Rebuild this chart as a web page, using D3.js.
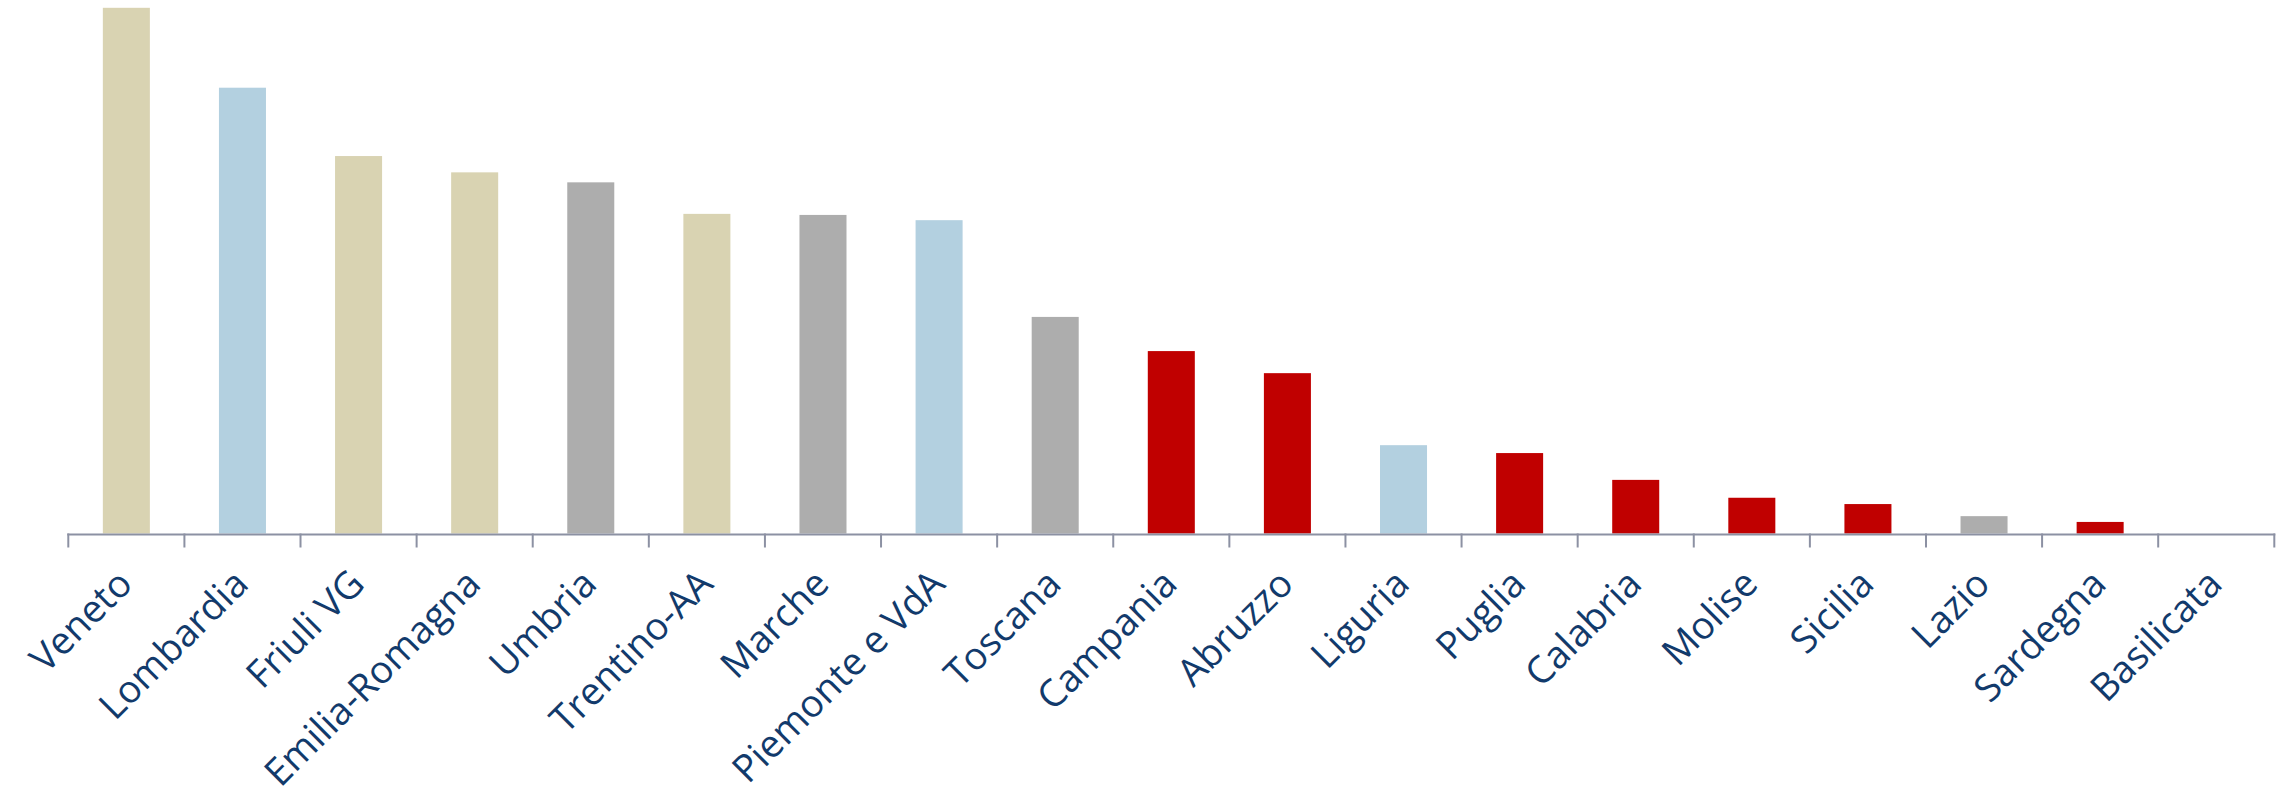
<!DOCTYPE html>
<html>
<head>
<meta charset="utf-8">
<script src="https://cdn.jsdelivr.net/npm/d3@7"></script>
<style>
  body { margin: 0; background: #fff; }
</style>
</head>
<body>
<div id="chart"></div>
<script>
// data
regioni = ['Veneto', 'Lombardia', 'Friuli VG', 'Emilia-Romagna', 'Umbria', 'Trentino-AA',
	'Marche', 'Piemonte e VdA', 'Toscana', 'Campania', 'Abruzzo', 'Liguria', 'Puglia',
	'Calabria', 'Molise', 'Sicilia', 'Lazio', 'Sardegna', 'Basilicata'];

valori = [100, 84.8, 71.8, 68.7, 66.8, 60.8, 60.6, 59.6, 41.2, 34.7, 30.5, 16.8, 15.3,
	10.2, 6.8, 5.6, 3.3, 2.2, 0];

gruppi = ['A', 'B', 'A', 'A', 'C', 'A', 'C', 'B', 'C', 'D', 'D', 'B', 'D',
	'D', 'D', 'D', 'C', 'D', 'D'];

// chart settings
chart_width = 2282;
chart_height = 811;
axis_y = 533.5;
top_y = 7.8;
x_start = 68.3;
x_end = 2274.3;
bar_ratio = 0.405;

// colors
color = d3.scaleOrdinal()
	.domain(['A', 'B', 'C', 'D'])
	.range(['#d9d3b2', '#b3d0e0', '#adadad', '#c00000']);

// scales
x_scale = d3.scaleBand()
	.domain(regioni)
	.range([x_start, x_end])
	.padding(0);

y_scale = d3.scaleLinear()
	.domain([0, 100])
	.range([axis_y, top_y]);

var svg = d3.select('#chart')
	.append('svg')
	.attr('width', chart_width)
	.attr('height', chart_height);

// bars
var bw = x_scale.bandwidth() * bar_ratio;
svg.selectAll('rect.bar')
	.data(regioni)
	.enter()
	.append('rect')
	.attr('class', 'bar')
	.attr('x', (d) => x_scale(d) + (x_scale.bandwidth() - bw) / 2)
	.attr('y', (d, i) => y_scale(valori[i]))
	.attr('width', bw)
	.attr('height', (d, i) => y_scale(0) - y_scale(valori[i]))
	.attr('fill', (d, i) => color(gruppi[i]));

// axis line and ticks at band edges
var axis_color = '#8c91a3';
svg.append('line')
	.attr('x1', x_start - 1).attr('x2', x_end + 1)
	.attr('y1', axis_y + 1).attr('y2', axis_y + 1)
	.attr('stroke', axis_color)
	.attr('stroke-width', 2);

var edges = regioni.map((d) => x_scale(d)).concat([x_end]);
svg.selectAll('line.tick')
	.data(edges)
	.enter()
	.append('line')
	.attr('class', 'tick')
	.attr('x1', (d) => d).attr('x2', (d) => d)
	.attr('y1', axis_y).attr('y2', axis_y + 14)
	.attr('stroke', axis_color)
	.attr('stroke-width', 2);

// labels
svg.selectAll('text.lab')
	.data(regioni)
	.enter()
	.append('text')
	.attr('class', 'lab')
	.attr('transform', (d) => 'translate(' + (x_scale(d) + x_scale.bandwidth() / 2 + 8) + ',' + 586 + ') rotate(-45)')
	.attr('text-anchor', 'end')
	.attr('font-family', '"Open Sans", Lato, sans-serif')
	.attr('font-size', 38)
	.attr('fill', '#123a6b')
	.text((d) => d);
</script>
</body>
</html>
